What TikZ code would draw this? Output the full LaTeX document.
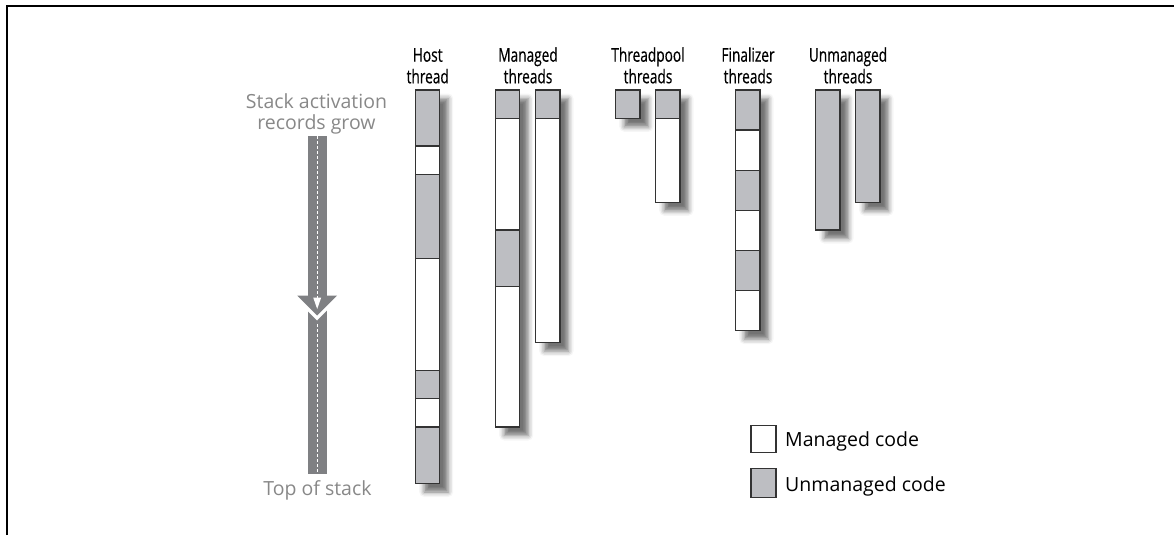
\documentclass[tikz,border=0pt]{standalone}
\usepackage{fontspec}
\setmainfont{Open Sans}
\newfontfamily\condfont[FakeStretch=0.72,FakeBold=0.4]{Open Sans}
\usetikzlibrary{shadows.blur}
\definecolor{um}{HTML}{BDBEC2}
\definecolor{edge}{HTML}{333333}
\definecolor{band}{HTML}{7F8083}
\definecolor{soft}{HTML}{888888}
\tikzset{
  seg/.style={draw=edge, line width=1.2pt},
  useg/.style={seg, fill=um},
  mseg/.style={seg, fill=white},
  barshadow/.style={fill=white, blur shadow={shadow xshift=8.5pt, shadow yshift=-8.5pt, shadow blur radius=5pt, shadow opacity=55}},
  head/.style={font=\condfont\fontsize{19}{21}\selectfont, anchor=base, inner sep=0pt, text=black},
  softtext/.style={font=\fontsize{19.5}{22}\selectfont, anchor=base, inner sep=0pt, text=soft},
  legtext/.style={font=\fontsize{19.5}{22}\selectfont, anchor=base west, inner sep=0pt, text=black},
}
\newcommand\barshade[4]{\path[barshadow] (#1,#3) rectangle (#2,#4);}
\begin{document}
\begin{tikzpicture}[x=1pt,y=-1pt]
\useasboundingbox (0,0) rectangle (1174,535);
% frame
\draw[line width=2pt] (6.8,535) -- (6.8,5.8) -- (1174,5.8);

% headers
\node[head] (hostA) at (427.7,61.7) {Host};
\node[head] (hostB) at (427.7,83.3) {thread};
\node[head] (manA) at (528,61.7) {Managed};
\node[head] (manB) at (528,83.3) {threads};
\node[head] (poolA) at (648,61.7) {Threadpool};
\node[head] (poolB) at (648,83.3) {threads};
\node[head] (finA) at (748,61.7) {Finalizer};
\node[head] (finB) at (748,83.3) {threads};
\node[head] (unA) at (848,61.7) {Unmanaged};
\node[head] (unB) at (848,83.3) {threads};

% stack direction arrow
\node[softtext] (growA) at (316.5,108.3) {Stack activation};
\node[softtext] (growB) at (316.5,129) {records grow};
\node[softtext, anchor=center] (topst) at (317.5,490.5) {Top of stack};
\fill[band] (307.7,136) rectangle (326.7,474);
\fill[white] (297,300) -- (337,300) -- (317,320.5) -- cycle;
\fill[band] (297.3,295.7) -- (337,295.7) -- (317.2,315.5) -- cycle;
\draw[white, line width=1pt, dash pattern=on 3pt off 2pt] (317.2,136) -- (317.2,298);
\fill[white] (313.2,297.5) -- (321.2,297.5) -- (317.2,309) -- cycle;
\draw[white, line width=1pt, dash pattern=on 3pt off 2pt] (317.2,324) -- (317.2,474);

% shadows
\barshade{415.7}{439.7}{90}{483.5}
\barshade{495.7}{519.7}{90}{427}
\barshade{535.7}{560}{90}{342.7}
\barshade{615.7}{640}{90}{118.3}
\barshade{655.7}{680}{90}{202.3}
\barshade{735.7}{760}{90}{330.7}
\barshade{815.7}{840}{90}{230}
\barshade{855.7}{880}{90}{202.3}

% host thread
\foreach \a/\b/\s in {90/146/useg,146/174.3/mseg,174.3/258.5/useg,258.5/370.7/mseg,370.7/398.7/useg,398.7/427/mseg,427/483.5/useg}
  \draw[\s] (415.7,\a) rectangle (439.7,\b);
% managed threads
\foreach \a/\b/\s in {90/118.3/useg,118.3/230/mseg,230/286.7/useg,286.7/427/mseg}
  \draw[\s] (495.7,\a) rectangle (519.7,\b);
\foreach \a/\b/\s in {90/118.3/useg,118.3/342.7/mseg}
  \draw[\s] (535.7,\a) rectangle (560,\b);
% threadpool threads
\draw[useg] (615.7,90) rectangle (640,118.3);
\foreach \a/\b/\s in {90/118.3/useg,118.3/202.3/mseg}
  \draw[\s] (655.7,\a) rectangle (680,\b);
% finalizer thread
\foreach \a/\b/\s in {90/130/useg,130/170.7/mseg,170.7/210.7/useg,210.7/250.7/mseg,250.7/290.7/useg,290.7/330.7/mseg}
  \draw[\s] (735.7,\a) rectangle (760,\b);
% unmanaged threads
\draw[useg] (815.7,90) rectangle (840,230);
\draw[useg] (855.7,90) rectangle (880,202.3);

% legend
\node[mseg, minimum width=25pt, minimum height=27.7pt, inner sep=0pt] (legM) at (763.5,439) {};
\node[useg, minimum width=25pt, minimum height=29.7pt, inner sep=0pt] (legU) at (763.5,483) {};
\node[legtext] (legMt) at (785,446.7) {Managed code};
\node[legtext] (legUt) at (785,491.7) {Unmanaged code};
\end{tikzpicture}
\end{document}
